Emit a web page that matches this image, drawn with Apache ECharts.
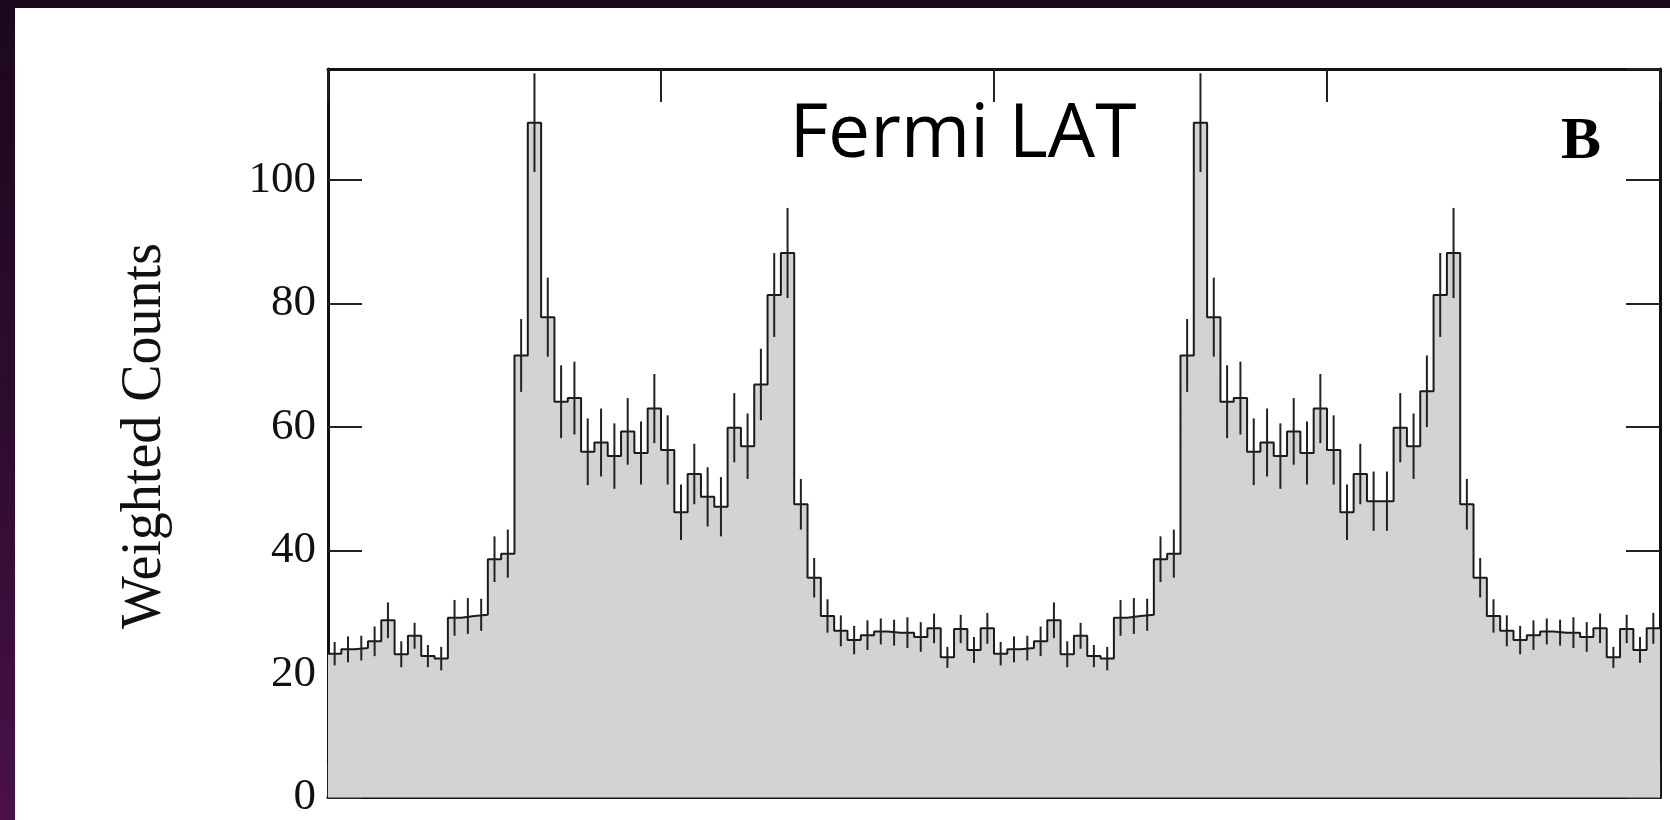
<!DOCTYPE html>
<html><head><meta charset="utf-8">
<script src="https://cdn.jsdelivr.net/npm/echarts@6/dist/echarts.min.js"></script>
<style>
html,body{margin:0;padding:0;width:1670px;height:820px;overflow:hidden;background:linear-gradient(to bottom,#1c081c 0%,#2f0b2f 50%,#4a104a 100%);}
#panel{position:absolute;left:15px;top:8px;right:0;bottom:0;background:#fff;}
#chart{position:absolute;left:0;top:0;width:1670px;height:820px;}
</style></head><body><div id="panel"></div><div id="chart"></div>
<script>
// Weighted counts per phase bin, first displayed rotation (bins 0-49)
const countsRotation1 = [23.3,24.0,24.2,25.3,28.7,23.2,26.2,22.9,22.5,29.1,
  29.4,29.6,38.6,39.5,71.6,109.3,77.8,64.1,64.7,56.0,
  57.5,55.3,59.3,55.8,63.0,56.3,46.2,52.4,48.7,47.1,
  59.9,56.9,66.9,81.4,88.2,47.5,35.6,29.4,27.0,25.5,
  26.3,26.9,26.7,26.7,26.0,27.4,22.7,27.3,23.9,27.4];
// second displayed rotation (bins 50-99)
const countsRotation2 = [23.3,24.0,24.2,25.3,28.7,23.2,26.2,22.9,22.5,29.1,
  29.4,29.6,38.6,39.5,71.6,109.3,77.8,64.1,64.7,56.0,
  57.5,55.3,59.3,55.8,63.0,56.3,46.2,52.4,48.0,48.0,
  59.9,56.9,65.8,81.4,88.2,47.5,35.6,29.4,27.0,25.5,
  26.3,26.9,26.7,26.7,26.0,27.4,22.7,27.3,23.9,27.4];
// 1-sigma error half-lengths per bin
const countErrors = [1.9,2.1,2.0,2.4,2.9,2.1,2.1,1.8,1.9,2.9,
  2.9,2.6,3.7,3.9,5.9,8.0,6.4,5.9,5.9,5.4,
  5.5,5.3,5.4,5.1,5.6,5.6,4.5,4.9,4.8,4.8,
  5.6,5.3,5.8,6.8,7.3,4.1,3.2,2.7,2.5,2.3,
  2.4,2.1,2.1,2.5,2.4,2.4,1.7,2.3,2.1,2.5];
const yTickLabels = [0,20,40,60,80,100];
const phaseMin = 0, phaseMax = 2, phaseTickStep = 0.5;
const yMin = 0, yMax = 118, yTickStep = 20;
const yTitle = 'Weighted Counts';
const panelTitle = 'Fermi LAT';
const panelLetter = 'B';

const counts = countsRotation1.concat(countsRotation2);
const errors = countErrors.concat(countErrors);
const nBins = counts.length;
const binWidth = (phaseMax - phaseMin) / nBins;

const stepData = counts.map((c, i) => [phaseMin + i * binWidth, c]);
stepData.push([phaseMax, counts[nBins - 1]]);
const errData = counts.map((c, i) => [phaseMin + (i + 0.5) * binWidth, c - errors[i], c + errors[i]]);

const axisColor = '#111';
const xAxisBase = {
  type: 'value', min: phaseMin, max: phaseMax, interval: phaseTickStep, gridIndex: 0,
  axisLine: {show: true, onZero: false, lineStyle: {color: axisColor, width: 3}},
  axisTick: {show: true, inside: true, length: 33, lineStyle: {color: '#222', width: 2}},
  axisLabel: {show: false}, splitLine: {show: false}
};
const yAxisBase = {
  type: 'value', min: yMin, max: yMax, interval: yTickStep, gridIndex: 0,
  axisLine: {show: true, onZero: false, lineStyle: {color: axisColor, width: 3}},
  axisTick: {show: true, inside: true, length: 34, lineStyle: {color: '#222', width: 2}},
  splitLine: {show: false}
};

const chart = echarts.init(document.getElementById('chart'));
chart.setOption({
  backgroundColor: 'transparent',
  animation: false,
  grid: {left: 328, top: 69, width: 1332, height: 734, containLabel: false},
  xAxis: [
    Object.assign({}, xAxisBase, {position: 'bottom'}),
    Object.assign({}, xAxisBase, {position: 'top'})
  ],
  yAxis: [
    Object.assign({}, yAxisBase, {position: 'left',
      axisLabel: {show: true, margin: 12, color: '#111', fontFamily: 'Liberation Serif', fontSize: 45,
        showMaxLabel: false,
        formatter: v => (yTickLabels.indexOf(v) >= 0 ? String(v) : '')}}),
    Object.assign({}, yAxisBase, {position: 'right', axisLabel: {show: false}})
  ],
  graphic: [
    {type: 'text', x: 145, y: 436, rotation: Math.PI / 2,
      style: {text: yTitle, font: '56px "Liberation Serif"', fill: '#111', align: 'center', verticalAlign: 'middle'}},
    {type: 'text', x: 963, y: 136,
      style: {text: panelTitle, font: '75px "Open Sans"', fill: '#000', align: 'center', verticalAlign: 'middle'}},
    {type: 'text', x: 1581, y: 142,
      style: {text: panelLetter, font: 'bold 60px "Liberation Serif"', fill: '#000', align: 'center', verticalAlign: 'middle'}}
  ],
  series: [
    {type: 'line', xAxisIndex: 0, yAxisIndex: 0, data: stepData, step: 'end', symbol: 'none',
      lineStyle: {color: '#1a1a1a', width: 2}, areaStyle: {color: '#d3d3d3', opacity: 1, origin: 'start'}, z: 3},
    {type: 'custom', xAxisIndex: 0, yAxisIndex: 0, data: errData, encode: {x: 0, y: [1, 2]}, z: 4,
      renderItem: function (params, api) {
        const p1 = api.coord([api.value(0), api.value(1)]);
        const p2 = api.coord([api.value(0), api.value(2)]);
        return {type: 'line', shape: {x1: p1[0], y1: p1[1], x2: p2[0], y2: p2[1]},
          style: {stroke: '#222', lineWidth: 2}};
      }}
  ]
});
</script></body></html>
